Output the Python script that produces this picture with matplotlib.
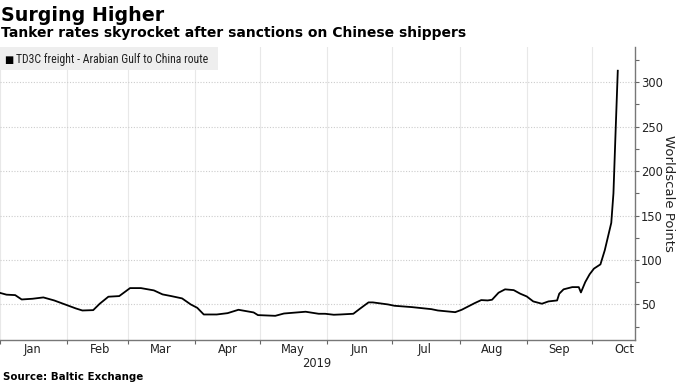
import matplotlib.pyplot as plt
import matplotlib.dates as mdates
import pandas as pd
from matplotlib.font_manager import findfont, FontProperties

# TD3C freight, Worldscale points
dates = pd.to_datetime([
    "2019-01-01", "2019-01-04", "2019-01-08", "2019-01-11", "2019-01-16", "2019-01-21",
    "2019-01-26", "2019-01-31", "2019-02-05", "2019-02-08", "2019-02-13", "2019-02-16",
    "2019-02-20", "2019-02-25", "2019-03-02", "2019-03-07", "2019-03-13", "2019-03-17",
    "2019-03-21", "2019-03-26", "2019-03-30", "2019-04-02", "2019-04-05", "2019-04-11",
    "2019-04-16", "2019-04-21", "2019-04-28", "2019-04-30", "2019-05-08", "2019-05-12",
    "2019-05-22", "2019-05-28", "2019-05-31", "2019-06-04", "2019-06-07", "2019-06-13",
    "2019-06-16", "2019-06-20", "2019-06-22", "2019-06-29", "2019-07-02", "2019-07-10",
    "2019-07-19", "2019-07-22", "2019-07-30", "2019-08-02", "2019-08-08", "2019-08-11",
    "2019-08-14", "2019-08-16", "2019-08-19", "2019-08-22", "2019-08-26", "2019-08-29",
    "2019-09-01", "2019-09-04", "2019-09-08", "2019-09-11", "2019-09-15", "2019-09-16",
    "2019-09-18", "2019-09-22", "2019-09-25", "2019-09-26", "2019-09-28", "2019-09-30",
    "2019-10-02", "2019-10-05", "2019-10-07", "2019-10-10", "2019-10-11", "2019-10-12",
    "2019-10-13",
])
values = [
    63, 61, 60.5, 55.6, 56.4, 57.9,
    54.5, 50, 45.5, 43.2, 43.6, 50.8,
    58.7, 59.4, 68.4, 68.4, 65.8, 61.3,
    59.4, 56.8, 50, 46.2, 38.7, 38.7,
    40.2, 44, 41, 38, 37.2, 39.8,
    41.8, 39.5, 39.5, 38.4, 38.7, 39.5,
    45.1, 52.3, 52.3, 50, 48.5, 47,
    44.7, 43.2, 41.3, 44, 51.5, 54.9,
    54.5, 55.3, 63.2, 67, 66.1, 62.1,
    59, 53.4, 50.8, 53.4, 54.5, 62.1,
    67, 69.5, 69.5, 63.5, 75.2, 83.9,
    90.3, 95.1, 111, 141.8, 175, 245,
    313,
]
y_major = [50, 100, 150, 200, 250, 300]
y_minor = [25, 75, 125, 175, 225, 275, 325]

title = "Surging Higher"
subtitle = "Tanker rates skyrocket after sanctions on Chinese shippers"
series_name = "TD3C freight - Arabian Gulf to China route"
source = "Source: Baltic Exchange"


def pick_font(candidates):
    for name in candidates:
        try:
            findfont(FontProperties(family=name), fallback_to_default=False)
            return name
        except Exception:
            pass
    return None


narrow = pick_font(["Liberation Sans Narrow", "DejaVu Sans Condensed",
                    "Roboto Condensed", "Open Sans Condensed"])
legend_kw = dict(family=narrow, fontsize=8.5) if narrow else dict(fontsize=6.4)

fig = plt.figure(figsize=(6.8, 3.83), dpi=100)
ax = fig.add_axes([0.0, 0.1123, 0.934, 0.7657])

ax.plot(dates, values, color="black", lw=1.3, zorder=3)

ax.set_xlim(pd.Timestamp("2019-01-01"), pd.Timestamp("2019-10-21"))
ax.set_ylim(10, 340)

# y axis on the right
ax.yaxis.tick_right()
ax.yaxis.set_label_position("right")
ax.set_yticks(y_major)
ax.set_yticks(y_minor, minor=True)
ax.tick_params(axis="y", which="both", direction="out", length=3, width=0.8,
               color="#666666", labelsize=8.3, pad=1, labelcolor="#222222")
ax.set_ylabel("Worldscale Points", rotation=-90, labelpad=9, fontsize=9.5,
              color="#222222")

# x axis: ticks at month starts, labels mid-month
ax.xaxis.set_major_locator(mdates.MonthLocator())
ax.xaxis.set_major_formatter(plt.NullFormatter())
ax.xaxis.set_minor_locator(mdates.MonthLocator(bymonthday=16))
ax.xaxis.set_minor_formatter(mdates.DateFormatter("%b"))
ax.tick_params(axis="x", which="major", direction="out", length=3, width=0.8,
               color="#666666")
ax.tick_params(axis="x", which="minor", length=0, labelsize=8.3, pad=2.5,
               labelcolor="#222222")

for s in ["left", "top"]:
    ax.spines[s].set_visible(False)
for s in ["right", "bottom"]:
    ax.spines[s].set_color("#777777")
    ax.spines[s].set_linewidth(1.0)

ax.grid(axis="x", which="major", color="#e8e8e8", lw=0.8)
ax.grid(axis="y", which="major", color="#cccccc", lw=0.8, ls=(0, (1, 1.5)))
ax.set_axisbelow(True)

fig.text(317 / 680, 1 - 367 / 383, "2019", ha="center", va="baseline",
         fontsize=8.3, color="#222222")

# legend box
fig.patches.append(plt.Rectangle((0.0, 1 - 70 / 383), 218 / 680, 23 / 383,
                                 transform=fig.transFigure, facecolor="#eeeeee",
                                 edgecolor="none", zorder=1))
fig.text(4 / 680, 1 - 63 / 383, "\u25a0", fontsize=7, va="baseline", ha="left",
         color="black")
fig.text(16 / 680, 1 - 63 / 383, series_name, va="baseline", ha="left",
         color="#222222", **legend_kw)

fig.text(0.002, 1 - 20.7 / 383, title, fontsize=13.7, fontweight="bold",
         va="baseline", ha="left")
fig.text(0.002, 1 - 37.3 / 383, subtitle, fontsize=10, fontweight="bold",
         va="baseline", ha="left")
fig.text(0.004, 1 - 380 / 383, source, fontsize=7.4, fontweight="bold",
         va="baseline", ha="left")

fig.savefig("out.png", dpi=100)
